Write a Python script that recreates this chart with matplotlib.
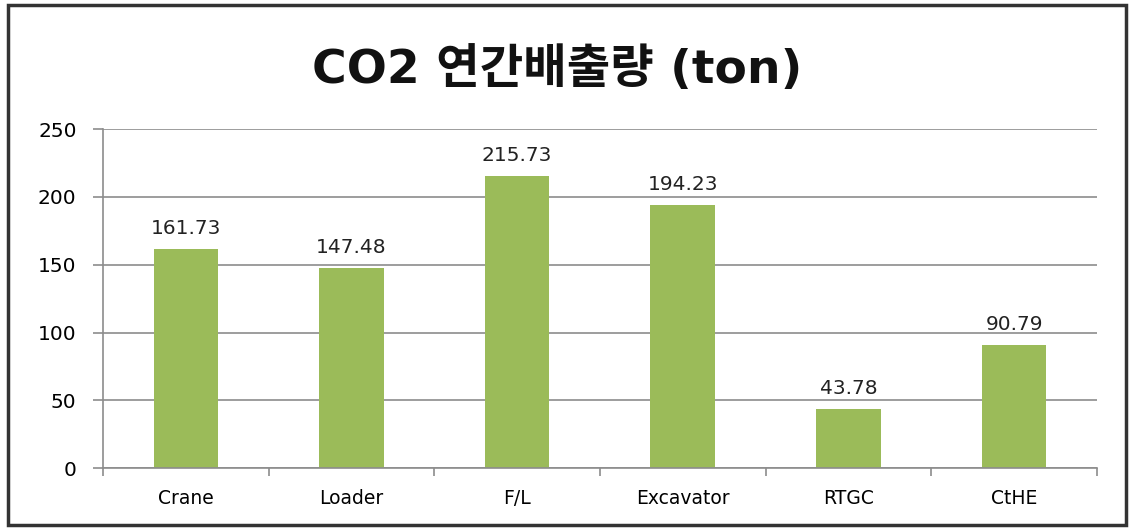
import matplotlib.pyplot as plt
import numpy as np
from matplotlib.patches import Rectangle

plt.rcParams['font.family'] = ['DejaVu Sans', 'Noto Sans CJK KR']

categories = ['Crane', 'Loader', 'F/L', 'Excavator', 'RTGC', 'CtHE']
values = [161.73, 147.48, 215.73, 194.23, 43.78, 90.79]
yticks = [0, 50, 100, 150, 200, 250]

fig = plt.figure(figsize=(11.32, 5.29), dpi=100)
ax = fig.add_axes([0.091, 0.115, 0.878, 0.641])

x = np.arange(len(categories))
ax.set_axisbelow(True)
ax.grid(axis='y', color='#8c8c8c', linewidth=1.2)
ax.bar(x, values, width=0.39, color='#9bbb59', zorder=2)

for xi, v in zip(x, values):
    ax.text(xi, v + 8, f'{v:.2f}', ha='center', va='bottom', fontsize=14.5,
            color='#222222')

ax.set_xlim(-0.5, len(categories) - 0.5)
ax.set_ylim(0, 250)
ax.set_yticks(yticks)
ax.set_yticklabels([str(t) for t in yticks], fontsize=14.5)
ax.set_xticks(x)
ax.set_xticklabels(categories, fontsize=13.5)
ax.set_xticks(np.arange(-0.5, len(categories)), minor=True)
ax.tick_params(axis='x', which='major', length=0, pad=15)
ax.tick_params(axis='x', which='minor', length=6, color='#8c8c8c', width=1.2)
ax.tick_params(axis='y', length=7, color='#8c8c8c', width=1.2, pad=12)

for s in ['top', 'right']:
    ax.spines[s].set_visible(False)
for s in ['left', 'bottom']:
    ax.spines[s].set_color('#8c8c8c')
    ax.spines[s].set_linewidth(1.2)

fig.text(0.492, 0.868, 'CO2 연간배출량 (ton)', ha='center', va='center',
         fontsize=34, fontweight='bold', color='#111111')

fig.patches.append(Rectangle((0.007, 0.008), 0.988, 0.982, transform=fig.transFigure,
                             fill=False, edgecolor='#333333', linewidth=2.5))

fig.savefig('out.png', dpi=100)
